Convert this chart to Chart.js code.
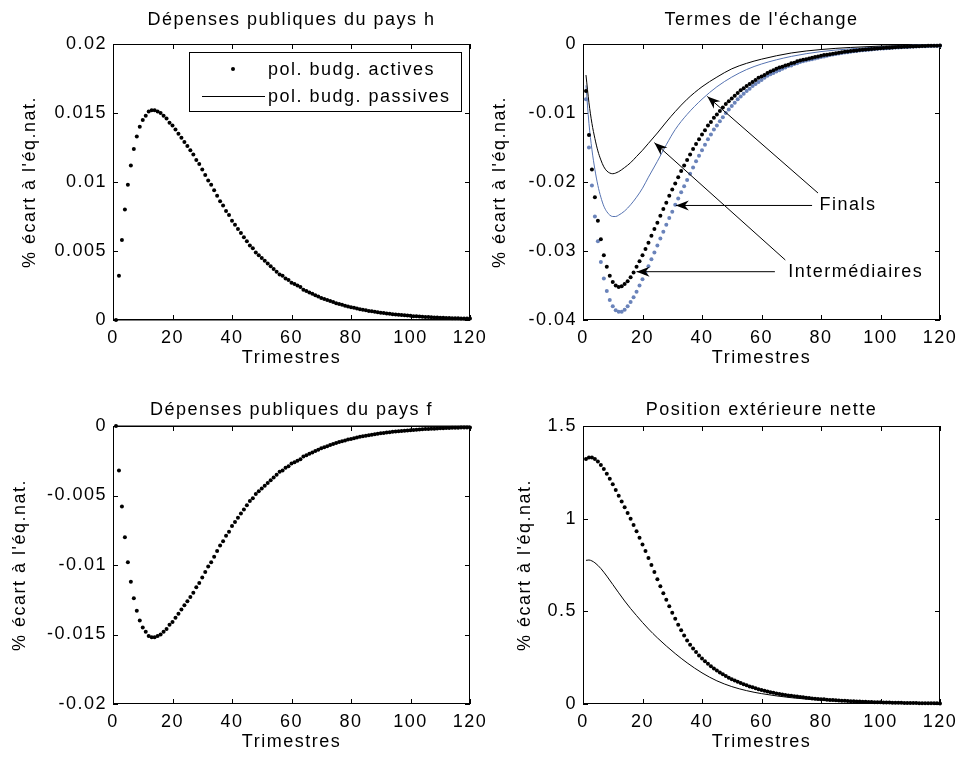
<!DOCTYPE html>
<html>
<head>
<meta charset="utf-8">
<script src="https://cdn.jsdelivr.net/npm/chart.js@4.4.1/dist/chart.umd.min.js"></script>
<style>
  html, body { margin: 0; padding: 0; background: #fff; }
  #fig { position: relative; width: 961px; height: 758px; overflow: hidden; }
  #fig canvas { position: absolute; }
</style>
</head>
<body>
<div id="fig">
  <canvas id="tot" width="481" height="379" style="left:480px;top:0"></canvas>
  <canvas id="nfa" width="481" height="379" style="left:480px;top:379px"></canvas>
  <canvas id="govHome" width="500" height="379" style="left:0;top:0"></canvas>
  <canvas id="govForeign" width="500" height="379" style="left:0;top:379px"></canvas>
</div>
<script>
// trimestres 1..120
const quarters = Array.from({ length: 120 }, (_, i) => i + 1);
const xTickValues = [0, 20, 40, 60, 80, 100, 120];

// Dépenses publiques du pays h
const govHomeActive = [
  0, 0.0032, 0.0058, 0.0080, 0.0098, 0.0112, 0.0124, 0.0133, 0.0140, 0.0145,
  0.0148, 0.0151, 0.0152, 0.0152, 0.0151, 0.0150, 0.0148, 0.0146, 0.0143, 0.0141,
  0.0138, 0.0135, 0.0132, 0.0129, 0.0126, 0.0123, 0.0120, 0.0116, 0.0113, 0.0109,
  0.0105, 0.0101, 0.0098, 0.0094, 0.0090, 0.0086, 0.0083, 0.0079, 0.0076, 0.0072,
  0.0069, 0.0066, 0.0063, 0.0060, 0.0057, 0.0054, 0.0052, 0.0049, 0.0047, 0.0045,
  0.0043, 0.0041, 0.0039, 0.0037, 0.0035, 0.0033, 0.0032, 0.0030, 0.0029, 0.0027,
  0.0026, 0.0025, 0.0024, 0.0022, 0.0021, 0.0020, 0.0019, 0.0018, 0.0017, 0.0016,
  0.00153, 0.00145, 0.00137, 0.0013, 0.00122, 0.00116, 0.0011, 0.00104, 0.00098, 0.00093,
  0.00088, 0.00083, 0.00078, 0.00074, 0.0007, 0.00066, 0.00063, 0.00059, 0.00056, 0.00053,
  0.0005, 0.00047, 0.00045, 0.00042, 0.0004, 0.00038, 0.00036, 0.00034, 0.00032, 0.0003,
  0.00028, 0.00027, 0.00025, 0.00024, 0.00022, 0.00021, 0.0002, 0.00019, 0.00018, 0.00017,
  0.00016, 0.00015, 0.00014, 0.00013, 0.00012, 0.00012, 0.00011, 0.00011, 0.0001, 0.0001
];
const govPassiveQuarters = [1, 120];
const govHomePassive = [0, 0];

// Dépenses publiques du pays f
const govForeignActive = [
  0, -0.0032, -0.0058, -0.0080, -0.0098, -0.0112, -0.0124, -0.0133, -0.0140, -0.0145,
  -0.0148, -0.0151, -0.0152, -0.0152, -0.0151, -0.0150, -0.0148, -0.0146, -0.0143, -0.0141,
  -0.0138, -0.0135, -0.0132, -0.0129, -0.0126, -0.0123, -0.0120, -0.0116, -0.0113, -0.0109,
  -0.0105, -0.0101, -0.0098, -0.0094, -0.0090, -0.0086, -0.0083, -0.0079, -0.0076, -0.0072,
  -0.0069, -0.0066, -0.0063, -0.0060, -0.0057, -0.0054, -0.0052, -0.0049, -0.0047, -0.0045,
  -0.0043, -0.0041, -0.0039, -0.0037, -0.0035, -0.0033, -0.0032, -0.0030, -0.0029, -0.0027,
  -0.0026, -0.0025, -0.0024, -0.0022, -0.0021, -0.0020, -0.0019, -0.0018, -0.0017, -0.0016,
  -0.00153, -0.00145, -0.00137, -0.0013, -0.00122, -0.00116, -0.0011, -0.00104, -0.00098, -0.00093,
  -0.00088, -0.00083, -0.00078, -0.00074, -0.0007, -0.00066, -0.00063, -0.00059, -0.00056, -0.00053,
  -0.0005, -0.00047, -0.00045, -0.00042, -0.0004, -0.00038, -0.00036, -0.00034, -0.00032, -0.0003,
  -0.00028, -0.00027, -0.00025, -0.00024, -0.00022, -0.00021, -0.0002, -0.00019, -0.00018, -0.00017,
  -0.00016, -0.00015, -0.00014, -0.00013, -0.00012, -0.00012, -0.00011, -0.00011, -0.0001, -0.0001
];
const govForeignPassive = [0, 0];

// Termes de l'échange : biens intermédiaires / finals
const totIntActive = [
  -0.0068, -0.0132, -0.0182, -0.0222, -0.0256, -0.0283, -0.0306, -0.0323, -0.0336, -0.0345,
  -0.0350, -0.0352, -0.0351, -0.0348, -0.0344, -0.0338, -0.0331, -0.0323, -0.0315, -0.0306,
  -0.0297, -0.0288, -0.0278, -0.0268, -0.0259, -0.0249, -0.0239, -0.0230, -0.0220, -0.0211,
  -0.0202, -0.0193, -0.0184, -0.0176, -0.0168, -0.0160, -0.0152, -0.0145, -0.0138, -0.0131,
  -0.0125, -0.0118, -0.0113, -0.0107, -0.0102, -0.0097, -0.0092, -0.0087, -0.0083, -0.0079,
  -0.0075, -0.0071, -0.0067, -0.0064, -0.0061, -0.0058, -0.0055, -0.0052, -0.0049, -0.0047,
  -0.0045, -0.0042, -0.0040, -0.0038, -0.0036, -0.0034, -0.0033, -0.0031, -0.0030, -0.0028,
  -0.0027, -0.0025, -0.0024, -0.0023, -0.0022, -0.0021, -0.0020, -0.0019, -0.0018, -0.0017,
  -0.0016, -0.00155, -0.00147, -0.0014, -0.00133, -0.00126, -0.0012, -0.00114, -0.00108, -0.00103,
  -0.00098, -0.00093, -0.00088, -0.00084, -0.0008, -0.00076, -0.00072, -0.00068, -0.00065, -0.00062,
  -0.00059, -0.00056, -0.00053, -0.0005, -0.00048, -0.00045, -0.00043, -0.00041, -0.00039, -0.00037,
  -0.00035, -0.00033, -0.00032, -0.0003, -0.00029, -0.00027, -0.00026, -0.00025, -0.00024, -0.00023
];
const totFinActive = [
  -0.0080, -0.0150, -0.0205, -0.0250, -0.0286, -0.0316, -0.0340, -0.0358, -0.0371, -0.0380,
  -0.0386, -0.0388, -0.0388, -0.0385, -0.0380, -0.0374, -0.0367, -0.0359, -0.0350, -0.0341,
  -0.0332, -0.0322, -0.0312, -0.0302, -0.0292, -0.0282, -0.0272, -0.0262, -0.0252, -0.0243,
  -0.0233, -0.0224, -0.0215, -0.0206, -0.0197, -0.0188, -0.0179, -0.0170, -0.0162, -0.0154,
  -0.0146, -0.0138, -0.0131, -0.0124, -0.0118, -0.0112, -0.0106, -0.0100, -0.0095, -0.0090,
  -0.0085, -0.0080, -0.0076, -0.0072, -0.0068, -0.0065, -0.0061, -0.0058, -0.0055, -0.0052,
  -0.0049, -0.0046, -0.0044, -0.0042, -0.0040, -0.0038, -0.0036, -0.0034, -0.0032, -0.0031,
  -0.0029, -0.0028, -0.0026, -0.0025, -0.0024, -0.0023, -0.0022, -0.0021, -0.0020, -0.0019,
  -0.0018, -0.0017, -0.0016, -0.00153, -0.00145, -0.00138, -0.00131, -0.00124, -0.00118, -0.00112,
  -0.00106, -0.00101, -0.00096, -0.00091, -0.00087, -0.00082, -0.00078, -0.00074, -0.0007, -0.00067,
  -0.00064, -0.0006, -0.00057, -0.00054, -0.00051, -0.00049, -0.00046, -0.00044, -0.00042, -0.0004,
  -0.00038, -0.00036, -0.00034, -0.00032, -0.00031, -0.00029, -0.00028, -0.00026, -0.00025, -0.00024
];
const totPassiveQuarters = [1, 2, 3, 4, 5, 6, 7, 8, 9, 10, 11, 12, 14, 16, 18, 20, 22, 25, 28, 31, 35, 40, 45, 50, 55, 60, 70, 80, 90, 100, 110, 120];
const totIntPassive = [
  -0.0045, -0.0085, -0.0115, -0.0137, -0.0155, -0.0168, -0.0178, -0.0184, -0.0187, -0.0188,
  -0.0187, -0.0185, -0.0179, -0.0172, -0.0163, -0.0154, -0.0144, -0.0129, -0.0113, -0.0098,
  -0.0080, -0.0062, -0.0048, -0.0036, -0.0028, -0.0022, -0.0013, -0.0008, -0.0005, -0.0003,
  -0.0002, -0.0001
];
const totFinPassive = [
  -0.0060, -0.0115, -0.0153, -0.0182, -0.0205, -0.0222, -0.0235, -0.0243, -0.0248, -0.0250,
  -0.0250, -0.0248, -0.0242, -0.0233, -0.0222, -0.0209, -0.0193, -0.0170, -0.0146, -0.0124,
  -0.0102, -0.0080, -0.0062, -0.0048, -0.0037, -0.0029, -0.0018, -0.0011, -0.0007, -0.0004,
  -0.0002, -0.0001
];

// Position extérieure nette
const nfaActive = [
  1.322, 1.330, 1.330, 1.322, 1.308, 1.290, 1.268, 1.243, 1.215, 1.186,
  1.155, 1.123, 1.093, 1.062, 1.031, 0.999, 0.966, 0.932, 0.897, 0.861,
  0.825, 0.788, 0.750, 0.712, 0.673, 0.635, 0.598, 0.562, 0.527, 0.493,
  0.460, 0.428, 0.398, 0.370, 0.343, 0.320, 0.299, 0.280, 0.262, 0.246,
  0.231, 0.217, 0.204, 0.192, 0.181, 0.170, 0.160, 0.151, 0.142, 0.134,
  0.127, 0.120, 0.113, 0.107, 0.101, 0.095, 0.090, 0.085, 0.080, 0.076,
  0.072, 0.068, 0.064, 0.061, 0.057, 0.054, 0.051, 0.049, 0.046, 0.044,
  0.042, 0.040, 0.038, 0.036, 0.034, 0.032, 0.030, 0.029, 0.027, 0.026,
  0.025, 0.023, 0.022, 0.021, 0.020, 0.019, 0.018, 0.017, 0.016, 0.015,
  0.0145, 0.0138, 0.013, 0.0123, 0.0117, 0.011, 0.0105, 0.01, 0.0095, 0.009,
  0.0085, 0.0081, 0.0077, 0.0073, 0.0069, 0.0066, 0.0062, 0.0059, 0.0056, 0.0053,
  0.0051, 0.0048, 0.0046, 0.0044, 0.0041, 0.0039, 0.0037, 0.0036, 0.0034, 0.0032
];
const nfaPassiveQuarters = [1, 2, 3, 4, 5, 6, 8, 10, 12, 14, 16, 18, 20, 22, 25, 28, 31, 35, 40, 45, 50, 55, 60, 70, 80, 90, 100, 110, 120];
const nfaPassive = [
  0.775, 0.777, 0.772, 0.762, 0.748, 0.731, 0.690, 0.645, 0.600, 0.556,
  0.515, 0.477, 0.440, 0.405, 0.357, 0.313, 0.272, 0.222, 0.168, 0.125,
  0.094, 0.072, 0.056, 0.034, 0.021, 0.013, 0.008, 0.005, 0.003
];

// graduations des axes y
const yTicksGovHome = [0, 0.005, 0.01, 0.015, 0.02];
const yTicksTot = [-0.04, -0.03, -0.02, -0.01, 0];
const yTicksGovForeign = [-0.02, -0.015, -0.01, -0.005, 0];
const yTicksNfa = [0, 0.5, 1, 1.5];

// annotations du graphique des termes de l'échange
const noteLabels = [
  { text: 'Finals', x: 79.5, y: -0.0234 },
  { text: 'Intermédiaires', x: 69, y: -0.0330 }
];
const noteArrows = [
  { from: [77, -0.0234], to: [31.2, -0.0234] },
  { from: [79, -0.0216], to: [41.8, -0.0076] },
  { from: [64.5, -0.0330], to: [18, -0.0330] },
  { from: [68, -0.0313], to: [24, -0.0143] }
];

const FAMILY = "'Liberation Sans', Arial, Helvetica, sans-serif";
const FONT = { family: FAMILY, size: 18, weight: 'normal', lineHeight: 1.2 };
const FONT_CSS = '18px ' + FAMILY;
const LETTER_SPACING = '1.5px';
const BLUE_DOT = '#6a83ba';
const BLUE_LINE = '#5673b1';

const pts = (xs, ys) => xs.map((x, i) => ({ x: x, y: ys[i] }));
const fmt = v => String(Number(Number(v).toPrecision(6)));

function dots(label, xs, ys, color) {
  return {
    label, data: pts(xs, ys), showLine: false,
    pointRadius: 2, pointHoverRadius: 2, pointBorderWidth: 0,
    pointBackgroundColor: color, backgroundColor: color, borderColor: color,
    clip: false
  };
}
function line(label, xs, ys, color) {
  return {
    label, data: pts(xs, ys), showLine: true, pointRadius: 0, pointHoverRadius: 0,
    borderWidth: 1, borderColor: color, backgroundColor: color,
    cubicInterpolationMode: 'monotone', clip: false
  };
}

// texte espacé comme dans la figure d'origine
const spacing = {
  id: 'spacing',
  beforeLayout(chart) { chart.ctx.letterSpacing = LETTER_SPACING; },
  beforeDraw(chart) { chart.ctx.letterSpacing = LETTER_SPACING; }
};

// cadre et graduations vers l'intérieur, style MATLAB
const frameTicks = {
  id: 'frameTicks',
  beforeDatasetsDraw(chart) {
    const { ctx, chartArea: a, scales: { x, y } } = chart;
    const len = 5;
    ctx.save();
    ctx.strokeStyle = '#000';
    ctx.lineWidth = 1;
    ctx.strokeRect(a.left + 0.5, a.top + 0.5, a.right - a.left - 1, a.bottom - a.top - 1);
    ctx.beginPath();
    x.ticks.forEach(t => {
      const px = Math.round(x.getPixelForValue(t.value)) + 0.5;
      ctx.moveTo(px, a.bottom); ctx.lineTo(px, a.bottom - len);
      ctx.moveTo(px, a.top); ctx.lineTo(px, a.top + len);
    });
    y.ticks.forEach(t => {
      const py = Math.round(y.getPixelForValue(t.value)) + 0.5;
      ctx.moveTo(a.left, py); ctx.lineTo(a.left + len, py);
      ctx.moveTo(a.right, py); ctx.lineTo(a.right - len, py);
    });
    ctx.stroke();
    ctx.restore();
  }
};

const legendBox = {
  id: 'legendBox',
  afterDatasetsDraw(chart) {
    const { ctx, chartArea: a } = chart;
    const left = a.left + 76, top = a.top + 8, w = 272, h = 59;
    ctx.save();
    ctx.fillStyle = '#fff';
    ctx.fillRect(left, top, w, h);
    ctx.strokeStyle = '#000';
    ctx.lineWidth = 1;
    ctx.strokeRect(left + 0.5, top + 0.5, w, h);
    ctx.font = FONT_CSS;
    ctx.textAlign = 'left';
    ctx.textBaseline = 'middle';
    chart.data.datasets.forEach((ds, i) => {
      const yy = top + 17 + i * 27;
      if (ds.showLine) {
        ctx.strokeStyle = ds.borderColor;
        ctx.beginPath();
        ctx.moveTo(left + 13, Math.round(yy) + 0.5);
        ctx.lineTo(left + 76, Math.round(yy) + 0.5);
        ctx.stroke();
      } else {
        ctx.fillStyle = ds.pointBackgroundColor;
        ctx.beginPath();
        ctx.arc(left + 44, yy, 2, 0, Math.PI * 2);
        ctx.fill();
      }
      ctx.fillStyle = '#000';
      ctx.fillText(ds.label, left + 79, yy + 1);
    });
    ctx.restore();
  }
};

function arrowHead(ctx, x0, y0, x1, y1) {
  const ang = Math.atan2(y1 - y0, x1 - x0);
  const ux = Math.cos(ang), uy = Math.sin(ang);
  const nx = -uy, ny = ux;
  const len = 13, half = 5, notch = 4;
  ctx.beginPath();
  ctx.moveTo(x1, y1);
  ctx.lineTo(x1 - len * ux + half * nx, y1 - len * uy + half * ny);
  ctx.lineTo(x1 - (len - notch) * ux, y1 - (len - notch) * uy);
  ctx.lineTo(x1 - len * ux - half * nx, y1 - len * uy - half * ny);
  ctx.closePath();
  ctx.fill();
}

const notes = {
  id: 'notes',
  afterDatasetsDraw(chart) {
    const { ctx, scales: { x, y } } = chart;
    ctx.save();
    ctx.strokeStyle = '#000';
    ctx.fillStyle = '#000';
    ctx.lineWidth = 1;
    noteArrows.forEach(a => {
      const x0 = x.getPixelForValue(a.from[0]), y0 = y.getPixelForValue(a.from[1]);
      const x1 = x.getPixelForValue(a.to[0]), y1 = y.getPixelForValue(a.to[1]);
      ctx.beginPath();
      ctx.moveTo(x0, y0);
      ctx.lineTo(x1, y1);
      ctx.stroke();
      arrowHead(ctx, x0, y0, x1, y1);
    });
    ctx.font = FONT_CSS;
    ctx.textAlign = 'left';
    ctx.textBaseline = 'middle';
    noteLabels.forEach(l => ctx.fillText(l.text, x.getPixelForValue(l.x), y.getPixelForValue(l.y)));
    ctx.restore();
  }
};

Chart.register(spacing, frameTicks);

function makePanel(id, p) {
  return new Chart(document.getElementById(id), {
    type: 'scatter',
    data: { datasets: p.datasets },
    plugins: p.extra || [],
    options: {
      responsive: false,
      animation: false,
      devicePixelRatio: 1,
      events: [],
      layout: { autoPadding: false, padding: { left: 0, top: 0, right: p.padRight, bottom: p.padBottom } },
      plugins: {
        legend: { display: false },
        tooltip: { enabled: false },
        title: {
          display: true, text: p.title, color: '#000', font: FONT, fullSize: false,
          padding: { top: p.titleTop, bottom: p.titleBottom }
        }
      },
      scales: {
        x: {
          type: 'linear', min: 0, max: 120,
          afterBuildTicks: s => { s.ticks = xTickValues.map(v => ({ value: v })); },
          afterFit: s => { s.height = 50; s.paddingLeft = 0; s.paddingRight = 0; },
          grid: { display: false, drawTicks: false },
          border: { display: false },
          ticks: { color: '#000', font: FONT, padding: 7, maxRotation: 0, autoSkip: false, callback: fmt },
          title: { display: true, text: 'Trimestres', color: '#000', font: FONT, padding: { top: 0, bottom: 1 } }
        },
        y: {
          type: 'linear', min: p.yTicks[0], max: p.yTicks[p.yTicks.length - 1],
          afterBuildTicks: s => { s.ticks = p.yTicks.map(v => ({ value: v })); },
          afterFit: s => { s.width = p.yWidth; s.paddingTop = 0; s.paddingBottom = 0; },
          grid: { display: false, drawTicks: false },
          border: { display: false },
          ticks: { color: '#000', font: FONT, padding: 6, autoSkip: false, callback: fmt },
          title: { display: true, text: "% écart à l'éq.nat.", color: '#000', font: FONT, padding: { top: p.yTitlePad, bottom: 0 } }
        }
      }
    }
  });
}

makePanel('govHome', {
  title: 'Dépenses publiques du pays h',
  yTicks: yTicksGovHome, yWidth: 113, yTitlePad: 19,
  padRight: 30, padBottom: 9, titleTop: 9, titleBottom: 13.4,
  datasets: [
    dots('pol. budg. actives', quarters, govHomeActive, '#000'),
    line('pol. budg. passives', govPassiveQuarters, govHomePassive, '#000')
  ],
  extra: [legendBox]
});

makePanel('tot', {
  title: "Termes de l'échange",
  yTicks: yTicksTot, yWidth: 103, yTitlePad: 9,
  padRight: 21, padBottom: 9, titleTop: 9, titleBottom: 13.4,
  datasets: [
    dots('Intermédiaires, pol. budg. actives', quarters, totIntActive, '#000'),
    dots('Finals, pol. budg. actives', quarters, totFinActive, BLUE_DOT),
    line('Intermédiaires, pol. budg. passives', totPassiveQuarters, totIntPassive, '#000'),
    line('Finals, pol. budg. passives', totPassiveQuarters, totFinPassive, BLUE_LINE)
  ],
  extra: [notes]
});

makePanel('govForeign', {
  title: 'Dépenses publiques du pays f',
  yTicks: yTicksGovForeign, yWidth: 113, yTitlePad: 9,
  padRight: 30, padBottom: 4, titleTop: 20, titleBottom: 5.4,
  datasets: [
    dots('pol. budg. actives', quarters, govForeignActive, '#000'),
    line('pol. budg. passives', govPassiveQuarters, govForeignPassive, '#000')
  ]
});

makePanel('nfa', {
  title: 'Position extérieure nette',
  yTicks: yTicksNfa, yWidth: 103, yTitlePad: 34,
  padRight: 21, padBottom: 4, titleTop: 20, titleBottom: 5.4,
  datasets: [
    dots('pol. budg. actives', quarters, nfaActive, '#000'),
    line('pol. budg. passives', nfaPassiveQuarters, nfaPassive, '#000')
  ]
});
</script>
</body>
</html>
